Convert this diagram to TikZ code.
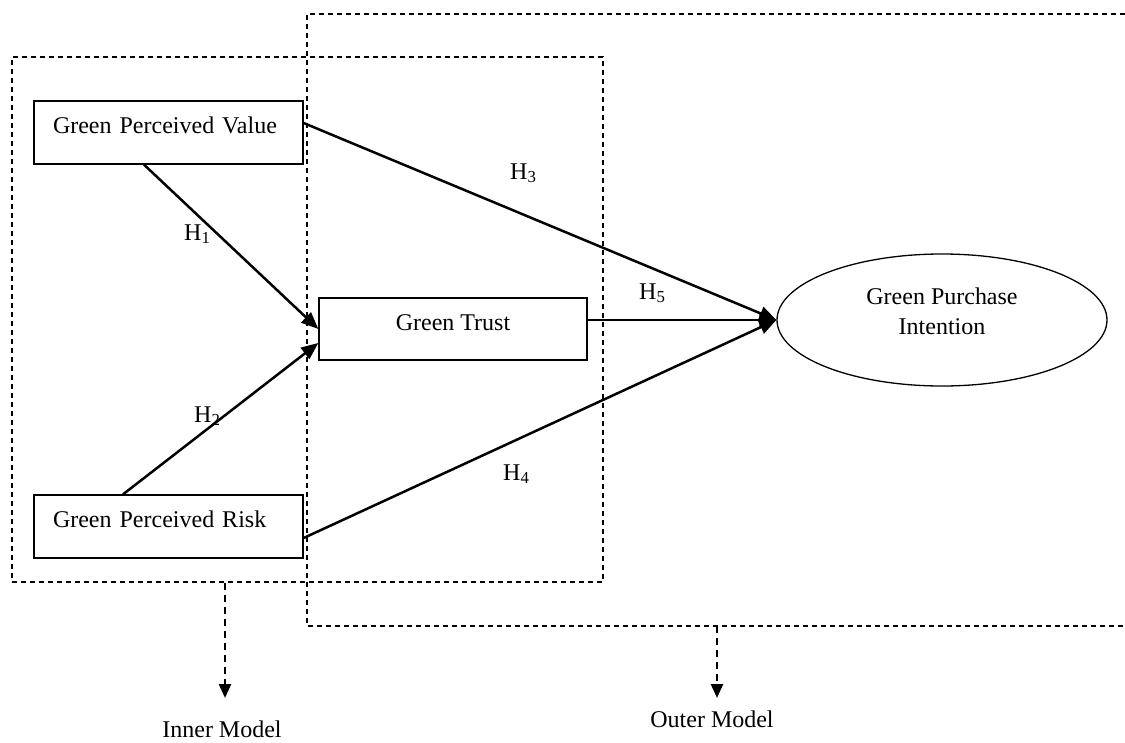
\documentclass[tikz,border=0pt]{standalone}
\usepackage{fontspec}
\setmainfont{Liberation Serif}
\usetikzlibrary{arrows.meta,shapes.geometric}
\tikzset{
  box/.style={draw, line width=1.3pt, inner ysep=0pt, text height=32pt, text depth=31pt,
    font=\fontsize{24}{30}\selectfont},
  leftbox/.style={box, text width=231pt, inner xsep=19pt, align=left},
  dashbox/.style={draw, line width=1.3pt, dash pattern=on 5pt off 4pt, inner sep=0pt},
  conn/.style={line width=2.5pt, -{Triangle[length=17pt,width=14pt]}},
  dconn/.style={line width=2.5pt, dash pattern=on 7pt off 5pt, -{Triangle[length=14pt,width=12pt]}},
  hlab/.style={anchor=base west, inner sep=0pt, font=\fontsize{24}{30}\selectfont},
  mlab/.style={anchor=base, inner sep=0pt, font=\fontsize{24}{30}\selectfont},
}
\begin{document}
\begin{tikzpicture}[x=1pt,y=-1pt]
\useasboundingbox (0,0) rectangle (1125,742);
% dashed frames
\node[dashbox, minimum width=591pt, minimum height=525pt] (inner) at (307.5,319.5) {};
\draw[line width=1.3pt, dash pattern=on 5pt off 4pt] (1125,14) -- (307,14) -- (307,626) -- (1125,626);
\coordinate (outerA) at (717,626);
% nodes
\node[leftbox] (GPV) at (168.5,132.5) {Green Perceived Value};
\node[leftbox] (GPR) at (168.5,526.5) {Green Perceived Risk};
\node[box, minimum width=268pt, text depth=30pt] (GT) at (453,329) {Green Trust};
\node[draw, line width=1.3pt, ellipse, minimum width=330pt, minimum height=132pt, inner sep=0pt] (PI) at (942,320) {};
\node[align=center, inner sep=0pt, font=\fontsize{24}{30}\selectfont] (PItext) at (942,311) {Green Purchase\\Intention};
% connectors
\draw[conn] ([xshift=-24.5pt]GPV.south) -- (GT.west);
\draw[conn] ([xshift=-45.5pt]GPR.north) -- ([yshift=-14pt]GT.west);
\draw[conn] ([yshift=9.5pt]GPV.east) -- (PI.west);
\draw[conn] (GT.east |- PI.west) -- (PI.west);
\draw[conn] ([yshift=-11.5pt]GPR.east) -- (PI.west);
% hypothesis labels
\node[hlab] (h1) at (184,240) {H\textsubscript{1}};
\node[hlab] (h2) at (194,422) {H\textsubscript{2}};
\node[hlab] (h3) at (510,179) {H\textsubscript{3}};
\node[hlab] (h4) at (503,480) {H\textsubscript{4}};
\node[hlab] (h5) at (639,299) {H\textsubscript{5}};
% model labels
\coordinate (innerA) at ([xshift=-82.5pt]inner.south);
\coordinate (innerTip) at (225,698);
\coordinate (outerTip) at (717,698);
\draw[dconn] (innerA) -- (innerTip);
\draw[dconn] (outerA) -- (outerTip);
\node[mlab] (innerlab) at (222,737) {Inner Model};
\node[mlab] (outerlab) at (712,727) {Outer Model};
\end{tikzpicture}
\end{document}
